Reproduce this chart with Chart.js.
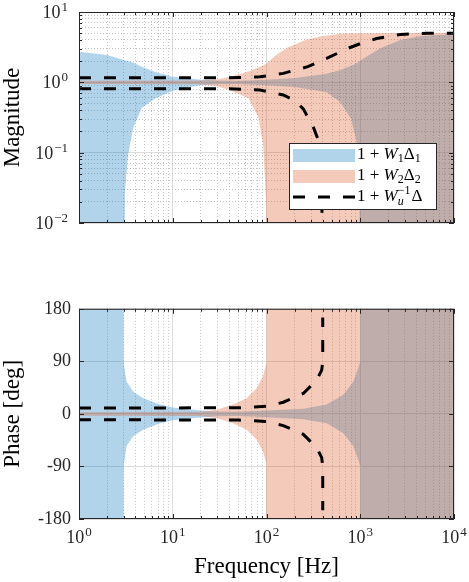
<!DOCTYPE html>
<html>
<head>
<meta charset="utf-8">
<script src="https://cdn.jsdelivr.net/npm/chart.js@4.4.1/dist/chart.umd.min.js"></script>
<style>
  body { margin: 0; background: #fff; }
  #wrap { position: relative; width: 469px; height: 582px; }
  canvas { position: absolute; left: 0; }
  #magChart { top: 0; }
  #phaseChart { top: 290px; }
</style>
</head>
<body>
<div id="wrap">
  <canvas id="magChart" width="469" height="290"></canvas>
  <canvas id="phaseChart" width="469" height="292"></canvas>
</div>
<script>
'use strict';

// axes (decades are written as 10 + exponent)
var xDecades = [1, 10, 100, 1000, 10000];
var xTickExponents = ['0', '1', '2', '3', '4'];
var magDecades = [0.01, 0.1, 1, 10];
var magTickExponents = ['−2', '−1', '0', '1'];
var phaseTicks = [-180, -90, 0, 90, 180];
var phaseTickLabels = ['-180', '-90', '0', '90', '180'];

// 1 + W1 Delta1 (magnitude band, lower/upper)
var w1MagFreq = [1, 2, 3, 3.1, 3.36, 3.8, 4.67, 6.5, 10, 15, 20, 30, 50, 100, 200, 440, 613, 800, 916, 980, 1000, 1637, 2683, 4398, 10000];
var w1MagUpper = [2.73, 2.45, 2.07, 2.05, 2.0, 1.9, 1.66, 1.4, 1.2, 1.13, 1.09, 1.06, 1.05, 1.09, 1.15, 1.32, 1.5, 1.72, 1.88, 1.98, 2.05, 3.05, 4.0, 4.56, 4.85];
var w1MagLower = [1e-4, 1e-4, 1e-4, 0.03, 0.098, 0.23, 0.43, 0.59, 0.76, 0.86, 0.91, 0.94, 0.95, 0.91, 0.86, 0.72, 0.52, 0.3, 0.14, 0.03, 1e-4, 1e-4, 1e-4, 1e-4, 1e-4];

// 1 + W2 Delta2
var w2MagFreq = [1, 20, 29, 41, 64, 82, 92.5, 99, 100, 130, 170, 210, 260, 372, 613, 1000, 10000];
var w2MagUpper = [1.05, 1.06, 1.1, 1.2, 1.42, 1.62, 1.75, 1.84, 1.86, 2.5, 3.15, 3.55, 4.0, 4.5, 4.9, 5.0, 5.05];
var w2MagLower = [0.95, 0.94, 0.89, 0.77, 0.6, 0.32, 0.12, 0.02, 1e-4, 1e-4, 1e-4, 1e-4, 1e-4, 1e-4, 1e-4, 1e-4, 1e-4];

// 1 + Wu^-1 Delta (dashed bounds)
var wuMagUpperFreq = [1, 40, 85, 151, 276, 473, 741, 1000, 1497, 2683, 5117, 10000];
var wuMagUpper = [1.16, 1.16, 1.2, 1.34, 1.67, 2.3, 3.05, 3.55, 4.2, 4.8, 5.0, 5.0];
var wuMagLowerFreq = [1, 40, 85, 151, 200, 247, 316, 357, 380, 390, 400];
var wuMagLower = [0.81, 0.81, 0.78, 0.66, 0.55, 0.42, 0.23, 0.15, 0.07, 0.02, 1e-4];

// phase bands (upper edge in deg, the lower edge is the mirror)
var w1PhaseFreq = [1, 3, 3, 3.1, 3.22, 3.8, 4.85, 7.3, 10, 14, 20, 30, 50, 100, 247, 439, 659, 843, 950, 1000, 1000, 10000];
var w1Phase = [180, 180, 89, 72, 55, 38, 27, 16, 11, 8.5, 6, 4, 3.5, 5.7, 9, 16, 33, 55, 78, 90, 180, 180];
var w2PhaseFreq = [1, 20, 29, 44, 61.5, 78.5, 92.5, 99, 100, 100, 10000];
var w2Phase = [3, 3.5, 7, 16, 27, 44, 66, 85, 90, 180, 180];
var wuPhaseFreq = [1, 50, 100, 151, 247, 343, 388, 398, 398];
var wuPhase = [10, 10.5, 13, 20, 35, 58, 75, 90, 165];

var blueFill = 'rgba(0, 114, 189, 0.3)';
var orangeFill = 'rgba(217, 83, 25, 0.3)';
var axisColor = '#262626';
var serif = "'Liberation Serif', 'DejaVu Serif', serif";

Chart.defaults.font.family = serif;
Chart.defaults.color = axisColor;

function pts(xs, ys, sign) {
  return xs.map(function (x, i) { return {x: x, y: ys[i] * (sign || 1)}; });
}

function isDecade(v) {
  var l = Math.log10(v);
  return Math.abs(l - Math.round(l)) < 1e-6;
}

// 1..9 times each decade, for log axes
function logTicks(decades) {
  var out = [];
  for (var i = 0; i < decades.length - 1; i++) {
    for (var m = 1; m < 10; m++) out.push({value: m * decades[i]});
  }
  out.push({value: decades[decades.length - 1]});
  return out;
}

function band(xs, lower, upper, color, order, sign) {
  return [
    {data: pts(xs, lower, sign), borderColor: 'rgba(0,0,0,0)', borderWidth: 0, fill: false, order: order},
    {data: pts(xs, upper), borderColor: 'rgba(0,0,0,0)', borderWidth: 0, fill: '-1', backgroundColor: color, order: order}
  ];
}

function dashed(xs, ys, sign) {
  return {data: pts(xs, ys, sign), borderColor: '#000', borderWidth: 3, borderDash: [12, 13], fill: false, order: 0};
}

var gridStyle = {
  drawTicks: false,
  lineWidth: 1,
  color: function (c) {
    if (!c.tick) return '#d9d9d9';
    return isDecade(Math.abs(c.tick.value) || 1) ? '#dcdcdc' : '#c4c4c4';
  }
};

function logBorder() {
  return {
    display: false,
    dash: function (c) {
      if (!c.tick) return [];
      return isDecade(c.tick.value) ? [] : [1, 2];
    }
  };
}

// box round the axes and small inward ticks like the original
var framePlugin = {
  id: 'frame',
  afterDatasetsDraw: function (chart) {
    var ca = chart.chartArea, ctx = chart.ctx;
    var xs = chart.scales.x, ys = chart.scales.y;
    ctx.save();
    ctx.strokeStyle = axisColor;
    ctx.lineWidth = 1;
    ctx.beginPath();
    xs.ticks.forEach(function (t) {
      var px = Math.round(xs.getPixelForValue(t.value)) + 0.5;
      var len = isDecade(t.value) ? 5 : 3;
      ctx.moveTo(px, ca.bottom); ctx.lineTo(px, ca.bottom - len);
      ctx.moveTo(px, ca.top); ctx.lineTo(px, ca.top + len);
    });
    ys.ticks.forEach(function (t) {
      var py = Math.round(ys.getPixelForValue(t.value)) + 0.5;
      var len = (ys.type === 'logarithmic' && !isDecade(t.value)) ? 3 : 5;
      ctx.moveTo(ca.left, py); ctx.lineTo(ca.left + len, py);
      ctx.moveTo(ca.right, py); ctx.lineTo(ca.right - len, py);
    });
    ctx.stroke();
    ctx.strokeRect(ca.left + 0.5, ca.top + 0.5, ca.width - 1, ca.height - 1);
    ctx.restore();
  }
};

// "10" with a raised exponent, align = 'center' or 'right'
function drawPow(ctx, exp, x, baseline, align) {
  ctx.font = '18px ' + serif;
  var wBase = ctx.measureText('10').width;
  ctx.font = '13px ' + serif;
  var wExp = ctx.measureText(exp).width;
  var start = align === 'right' ? x - wBase - wExp - 1 : x - (wBase + wExp + 1) / 2;
  ctx.font = '18px ' + serif;
  ctx.fillText('10', start, baseline);
  ctx.font = '13px ' + serif;
  ctx.fillText(exp, start + wBase + 1, baseline - 7);
}

var powLabelPlugin = {
  id: 'powLabels',
  afterDraw: function (chart) {
    var ctx = chart.ctx, ca = chart.chartArea;
    ctx.save();
    ctx.fillStyle = axisColor;
    ctx.textAlign = 'left';
    ctx.textBaseline = 'alphabetic';
    if (chart.canvas.id === 'magChart') {
      var ys = chart.scales.y;
      magDecades.forEach(function (v, i) {
        drawPow(ctx, magTickExponents[i], ca.left - 11, ys.getPixelForValue(v) + 6, 'right');
      });
    } else {
      var xs = chart.scales.x;
      xDecades.forEach(function (v, i) {
        drawPow(ctx, xTickExponents[i], xs.getPixelForValue(v), ca.bottom + 24, 'center');
      });
    }
    ctx.restore();
  }
};

// draws text pieces (normal, italic, sub, sup) one after the other
function drawRuns(ctx, x, y, runs) {
  runs.forEach(function (r) {
    if (r.stack) {
      ctx.font = 'italic 12px ' + serif;
      ctx.fillText(r.sub, x, y + 5);
      var w1 = ctx.measureText(r.sub).width;
      ctx.font = '12px ' + serif;
      ctx.fillText(r.sup, x, y - 6);
      x += Math.max(w1, ctx.measureText(r.sup).width) + 1;
      return;
    }
    var size = r.small ? 12 : 17;
    ctx.font = (r.italic ? 'italic ' : '') + size + 'px ' + serif;
    ctx.fillText(r.t, x, y + (r.small ? 4 : 0));
    x += ctx.measureText(r.t).width;
  });
}

var legendPlugin = {
  id: 'bandLegend',
  afterDraw: function (chart) {
    var ca = chart.chartArea, ctx = chart.ctx;
    var w = 147, h = 66;
    var x0 = ca.right - 18 - w, y0 = ca.bottom - 14 - h;
    ctx.save();
    ctx.fillStyle = '#fff';
    ctx.fillRect(x0, y0, w, h);
    ctx.strokeStyle = axisColor;
    ctx.lineWidth = 1;
    ctx.strokeRect(x0 + 0.5, y0 + 0.5, w, h);

    ctx.fillStyle = blueFill;
    ctx.fillRect(x0 + 4, y0 + 6, 62, 13);
    ctx.fillStyle = orangeFill;
    ctx.fillRect(x0 + 4, y0 + 27, 62, 13);
    ctx.strokeStyle = '#000';
    ctx.lineWidth = 3;
    ctx.setLineDash([12, 13]);
    ctx.beginPath();
    ctx.moveTo(x0 + 4, y0 + 54);
    ctx.lineTo(x0 + 66, y0 + 54);
    ctx.stroke();
    ctx.setLineDash([]);

    ctx.fillStyle = '#000';
    ctx.textBaseline = 'middle';
    ctx.textAlign = 'left';
    drawRuns(ctx, x0 + 68, y0 + 12, [{t: '1 + '}, {t: 'W', italic: true}, {t: '1', small: true}, {t: 'Δ'}, {t: '1', small: true}]);
    drawRuns(ctx, x0 + 68, y0 + 33, [{t: '1 + '}, {t: 'W', italic: true}, {t: '2', small: true}, {t: 'Δ'}, {t: '2', small: true}]);
    drawRuns(ctx, x0 + 68, y0 + 54, [{t: '1 + '}, {t: 'W', italic: true}, {stack: true, sub: 'u', sup: '−1'}, {t: 'Δ'}]);
    ctx.restore();
  }
};

var common = {
  responsive: false,
  animation: false,
  events: [],
  elements: {point: {radius: 0, hitRadius: 0}, line: {tension: 0}},
  plugins: {legend: {display: false}, tooltip: {enabled: false}}
};

function xScale(showTitle) {
  return {
    type: 'logarithmic',
    min: 1,
    max: 10000,
    afterBuildTicks: function (s) { s.ticks = logTicks(xDecades); },
    afterFit: function (s) { s.height = showTitle ? 63 : 67; },
    grid: gridStyle,
    border: logBorder(),
    ticks: {display: false},
    title: {
      display: showTitle,
      text: 'Frequency [Hz]',
      color: '#000',
      font: {size: 23, lineHeight: 1.1},
      padding: {top: 0, bottom: 2}
    }
  };
}

// magnitude
new Chart(document.getElementById('magChart'), {
  type: 'line',
  data: {
    datasets: [].concat(
      band(w1MagFreq, w1MagLower, w1MagUpper, blueFill, 2),
      band(w2MagFreq, w2MagLower, w2MagUpper, orangeFill, 1),
      [dashed(wuMagUpperFreq, wuMagUpper), dashed(wuMagLowerFreq, wuMagLower)]
    )
  },
  options: Object.assign({}, common, {
    layout: {padding: {top: 12, right: 15, left: 0, bottom: 0}},
    scales: {
      x: xScale(false),
      y: {
        type: 'logarithmic',
        min: 0.01,
        max: 10,
        afterBuildTicks: function (s) { s.ticks = logTicks(magDecades); },
        afterFit: function (s) { s.width = 79; },
        grid: gridStyle,
        border: logBorder(),
        ticks: {display: false},
        title: {display: true, text: 'Magnitude', color: '#000', font: {size: 23, lineHeight: 1.1}, padding: {top: 0, bottom: 0}}
      }
    }
  }),
  plugins: [framePlugin, powLabelPlugin, legendPlugin]
});

// phase
new Chart(document.getElementById('phaseChart'), {
  type: 'line',
  data: {
    datasets: [].concat(
      band(w1PhaseFreq, w1Phase, w1Phase, blueFill, 2, -1),
      band(w2PhaseFreq, w2Phase, w2Phase, orangeFill, 1, -1),
      [dashed(wuPhaseFreq, wuPhase), dashed(wuPhaseFreq, wuPhase, -1)]
    )
  },
  options: Object.assign({}, common, {
    layout: {padding: {top: 16, right: 15, left: 0, bottom: 0}},
    scales: {
      x: xScale(true),
      y: {
        type: 'linear',
        min: -180,
        max: 180,
        afterBuildTicks: function (s) { s.ticks = phaseTicks.map(function (v) { return {value: v}; }); },
        afterFit: function (s) { s.width = 79; },
        grid: {drawTicks: false, lineWidth: 1, color: '#dcdcdc'},
        border: {display: false},
        ticks: {
          autoSkip: false,
          padding: 8,
          font: {size: 18},
          callback: function (v) {
            var i = phaseTicks.indexOf(v);
            return i >= 0 ? phaseTickLabels[i] : '';
          }
        },
        title: {display: true, text: 'Phase [deg]', color: '#000', font: {size: 23, lineHeight: 1.1}, padding: {top: 0, bottom: 0}}
      }
    }
  }),
  plugins: [framePlugin, powLabelPlugin]
});
</script>
</body>
</html>
